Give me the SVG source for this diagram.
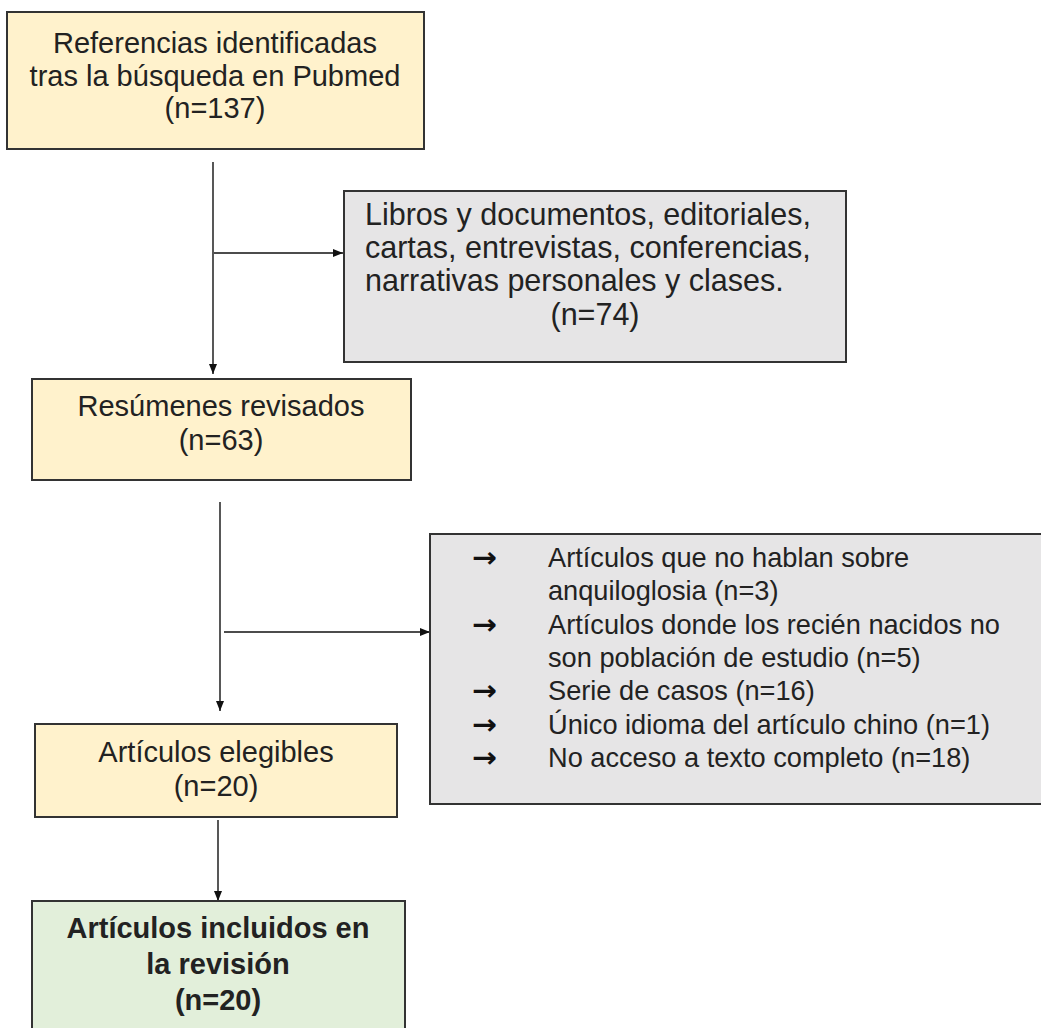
<svg xmlns="http://www.w3.org/2000/svg" width="1041" height="1028" viewBox="0 0 1041 1028">
  <defs>
    <style>
      .box { stroke: #333333; stroke-width: 2; }
      .yellow { fill: #fff2cc; }
      .grey { fill: #e6e5e6; }
      .green { fill: #e2efda; }
      .t { font-family: "Liberation Sans", Arial, sans-serif; fill: #222222; }
      .c { text-anchor: middle; }
      .y { font-size: 29px; }
      .g1 { font-size: 30.5px; }
      .g2 { font-size: 27.2px; }
      .b { font-weight: bold; font-size: 29px; }
      .bullet { font-family: "DejaVu Sans", sans-serif; font-weight: bold; font-size: 28px; fill: #111111; }
      .conn { stroke: #111111; stroke-width: 1.4; fill: none; }
    </style>
    <marker id="ah" viewBox="0 0 10 8" refX="10" refY="4" markerWidth="10" markerHeight="8" markerUnits="userSpaceOnUse" orient="auto">
      <path d="M0,0 L10,4 L0,8 Z" fill="#111111"/>
    </marker>
  </defs>

  <g id="connectors">
    <line class="conn" x1="213" y1="162" x2="213" y2="374" marker-end="url(#ah)"/>
    <line class="conn" x1="214" y1="253" x2="343" y2="253" marker-end="url(#ah)"/>
    <line class="conn" x1="220" y1="502" x2="220" y2="711" marker-end="url(#ah)"/>
    <line class="conn" x1="224" y1="632" x2="430" y2="632" marker-end="url(#ah)"/>
    <line class="conn" x1="218" y1="820" x2="218" y2="901" marker-end="url(#ah)"/>
  </g>

  <g id="node-referencias">
    <rect class="box yellow" x="7" y="12" width="417" height="137"/>
    <text class="t y c" x="215" y="53">Referencias identificadas</text>
    <text class="t y c" x="215" y="86">tras la búsqueda en Pubmed</text>
    <text class="t y c" x="215" y="118">(n=137)</text>
  </g>

  <g id="node-excluidos1">
    <rect class="box grey" x="344" y="191" width="502" height="171"/>
    <text class="t g1" x="365" y="225">Libros y documentos, editoriales,</text>
    <text class="t g1" x="365" y="258">cartas, entrevistas, conferencias,</text>
    <text class="t g1" x="365" y="291">narrativas personales y clases.</text>
    <text class="t g1 c" x="595" y="325">(n=74)</text>
  </g>

  <g id="node-resumenes">
    <rect class="box yellow" x="32" y="379" width="379" height="101"/>
    <text class="t y c" x="221" y="416">Resúmenes revisados</text>
    <text class="t y c" x="221" y="450">(n=63)</text>
  </g>

  <g id="node-excluidos2">
    <rect class="box grey" x="430" y="534" width="612" height="270"/>
    <text class="bullet" x="472" y="567" textLength="25" lengthAdjust="spacingAndGlyphs">→</text>
    <text class="t g2" x="548" y="567">Artículos que no hablan sobre</text>
    <text class="t g2" x="548" y="600">anquiloglosia (n=3)</text>
    <text class="bullet" x="472" y="634" textLength="25" lengthAdjust="spacingAndGlyphs">→</text>
    <text class="t g2" x="548" y="634">Artículos donde los recién nacidos no</text>
    <text class="t g2" x="548" y="667">son población de estudio (n=5)</text>
    <text class="bullet" x="472" y="700" textLength="25" lengthAdjust="spacingAndGlyphs">→</text>
    <text class="t g2" x="548" y="700">Serie de casos (n=16)</text>
    <text class="bullet" x="472" y="734" textLength="25" lengthAdjust="spacingAndGlyphs">→</text>
    <text class="t g2" x="548" y="734">Único idioma del artículo chino (n=1)</text>
    <text class="bullet" x="472" y="767" textLength="25" lengthAdjust="spacingAndGlyphs">→</text>
    <text class="t g2" x="548" y="767">No acceso a texto completo (n=18)</text>
  </g>

  <g id="node-elegibles">
    <rect class="box yellow" x="35" y="724" width="362" height="93"/>
    <text class="t y c" x="216" y="762">Artículos elegibles</text>
    <text class="t y c" x="216" y="796">(n=20)</text>
  </g>

  <g id="node-incluidos">
    <rect class="box green" x="32" y="901" width="373" height="140"/>
    <text class="t b c" x="218" y="938">Artículos incluidos en</text>
    <text class="t b c" x="218" y="974">la revisión</text>
    <text class="t b c" x="218" y="1010">(n=20)</text>
  </g>
</svg>
